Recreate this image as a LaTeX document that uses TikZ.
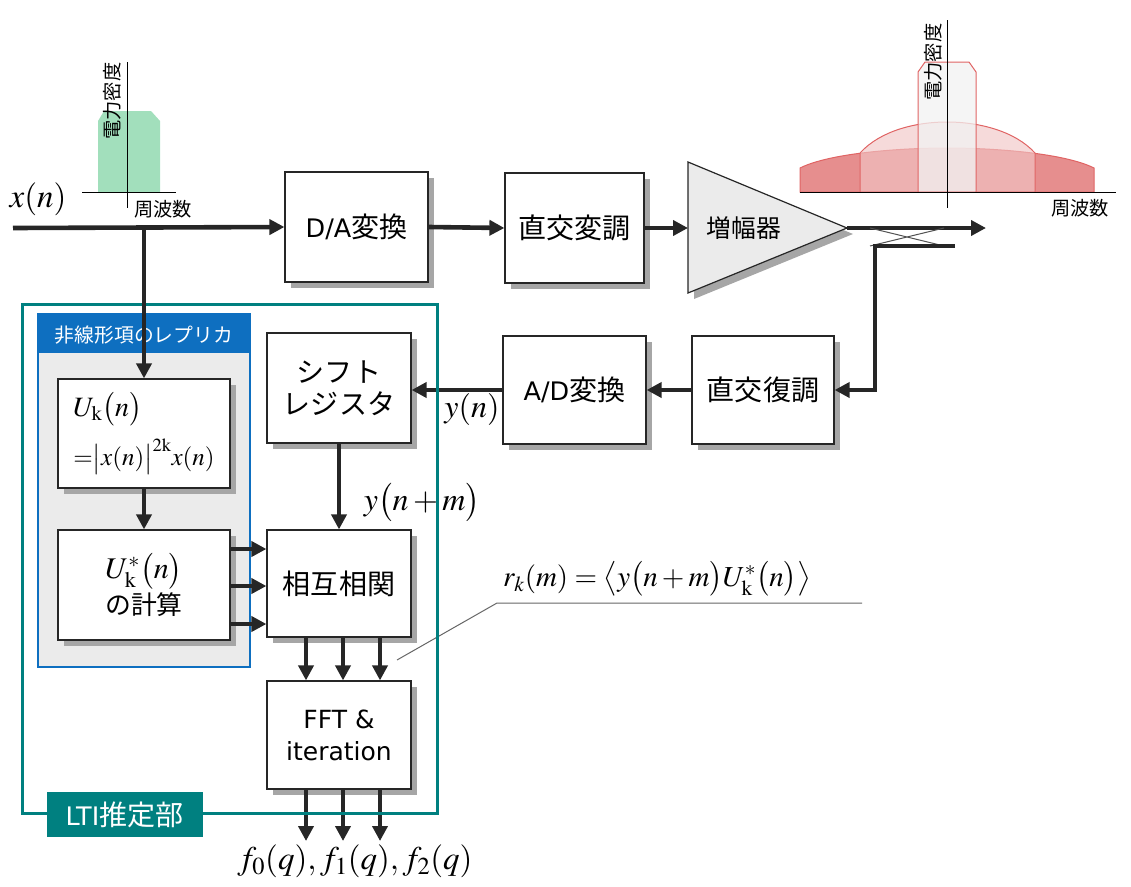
\documentclass[tikz,border=0pt]{standalone}
\usepackage{mathptmx}
\usepackage{fontspec}
\setmainfont{DejaVu Sans}
\newfontfamily\jp[Scale=1.1]{Noto Sans CJK JP}
\usetikzlibrary{arrows.meta,shadows,calc}
\definecolor{tealc}{HTML}{008080}
\definecolor{blueh}{HTML}{0E6FC0}
\definecolor{greyb}{HTML}{EBEBEB}
\definecolor{greensp}{HTML}{A2DFBC}
\definecolor{redo}{HTML}{E68E8E}
\definecolor{redd}{HTML}{E06464}
\definecolor{redm}{HTML}{F1C5C5}
\definecolor{linec}{HTML}{262626}
\tikzset{
  shad/.style={drop shadow={shadow xshift=6pt,shadow yshift=-6pt,fill=black!35,opacity=1}},
  blk/.style={shad,draw=linec,line width=1.2pt,fill=white,inner sep=0pt,align=center,
    font=\fontsize{25.5}{32}\selectfont},
  arr/.style={draw=linec,line width=4.6pt,-{Triangle[length=15pt,width=15pt]}},
  thk/.style={draw=linec,line width=4.6pt},
  axl/.style={draw=black,line width=1pt},
  jsmall/.style={font=\jp\fontsize{17.5}{20}\selectfont},
}
\begin{document}
\begin{tikzpicture}[x=1pt,y=-1pt]
\useasboundingbox (0,0) rectangle (1131,886);

% ---- left spectrum
\path[fill=greensp] (98,192) -- (98,121) -- (104,111) -- (151,111) -- (160,121) -- (160,192) -- cycle;
\draw[axl] (82,192) -- (176,192);
\draw[axl] (127,62) -- (127,208);
\node[jsmall,rotate=90] (pl) at (112,101) {電力密度};
\node[jsmall] (fl) at (163,209) {周波数};
\node[font=\fontsize{33}{36}\selectfont] (xn) at (38,199) {$x(n)$};

% ---- right spectrum
\path[fill=redo,draw=redd,line width=1pt] (800,192) -- (800,168) .. controls (830,153) and (900,148) .. (947,148) .. controls (994,148) and (1064,153) .. (1094,168) -- (1094,192) -- cycle;
\path[fill=redm,fill opacity=0.64,draw=redd,line width=1pt] (860,192) -- (860,153) .. controls (880,131) and (915,122) .. (947,122) .. controls (979,122) and (1015,131) .. (1035,153) -- (1035,192) -- cycle;
\path[fill=black!5,fill opacity=0.75,draw=redd,line width=1pt] (918,192) -- (918,72) -- (925,62) -- (969,62) -- (976,72) -- (976,192) -- cycle;
\draw[axl] (800,192) -- (1116,192);
\draw[axl] (947,20) -- (947,208);
\node[jsmall,rotate=90] (pr) at (933,62) {電力密度};
\node[jsmall] (fr) at (1080,208) {周波数};

% ---- top chain
\node[blk,minimum width=143pt,minimum height=110pt] (da) at (356.5,227) {D/A{\jp 変換}};
\node[blk,minimum width=139pt,minimum height=110pt] (qm) at (574.5,228) {\jp 直交変調};
\draw[shad,draw=linec,line width=1.2pt,fill=greyb] (688,162) -- (847,228) -- (688,293) -- cycle;
\coordinate (ampin) at (688,228);
\coordinate (ampout) at (847,228);
\node[font=\jp\fontsize{22.5}{30}\selectfont] (ampt) at (744,228) {増幅器};
\coordinate (xin) at (13,228);
\coordinate (br) at (144,228);
\draw[arr] (xin) -- (da.west);
\draw[arr] (da.east) -- (qm.west);
\draw[arr] (qm.east) -- (ampin);
\coordinate (outend) at (986,228);
\draw[arr] (ampout) -- (outend);
\draw[draw=linec!80,line width=1pt] (870,228) -- (944,246) (870,246) -- (944,228);

% ---- feedback chain
\node[blk,minimum width=142pt,minimum height=108pt] (dem) at (763,390) {\jp 直交復調};
\node[blk,minimum width=143pt,minimum height=108pt] (ad) at (574.5,390) {A/D{\jp 変換}};
\node[blk,minimum width=144pt,minimum height=110pt] (sr) at (339,388) {\jp シフト\\\jp レジスタ};
\coordinate (cpl) at (955,246);
\coordinate (cpc) at (875,246);
\draw[arr] (cpl) -- (cpc) -- (cpc |- dem.east) -- (dem.east);
\draw[arr] (dem.west) -- (ad.east);
\draw[arr] (ad.west) -- (sr.east |- ad.west);
\node[font=\fontsize{32}{36}\selectfont] (yn) at (472,409) {$y(n)$};

% ---- replica block
\draw[draw=blueh,line width=1.5pt,fill=greyb] (38,314) rectangle (250,667);
\path[fill=blueh] (38,314) rectangle (250,353);
\node[text=white,font=\jp\fontsize{18}{22}\selectfont] (rt) at (144,335) {非線形項のレプリカ};
\node[blk,minimum width=172pt,minimum height=109pt,align=left] (uk) at (144,433.5)
  {{\fontsize{28}{30}\selectfont $U_{\mathrm{k}}\bigl(n\bigr)$}\\[12pt]
   {\fontsize{25}{30}\selectfont ${=}\bigl|x(n)\bigr|^{2\mathrm{k}}x(n)$}};
\node[blk,minimum width=172pt,minimum height=110pt] (us) at (144,585)
  {{\fontsize{30}{32}\selectfont $U^{*}_{\mathrm{k}}\bigl(n\bigr)$}\\[3pt]
   {\jp\fontsize{23.5}{30}\selectfont の計算}};
\draw[arr] (uk.south) -- (us.north);

% ---- correlation
\node[blk,minimum width=144pt,minimum height=107pt] (cc) at (339,583.5) {\jp 相互相関};
\node[blk,minimum width=144pt,minimum height=108pt,font=\fontsize{25}{32}\selectfont] (fft) at (339,735) {FFT \&\\iteration};
\foreach \yy in {549,586,624} \draw[arr] (us.east |- 0,\yy) -- (cc.west |- 0,\yy);
\draw[arr] (sr.south) -- (cc.north);
\node[font=\fontsize{32}{36}\selectfont] (ynm) at (422,502) {$y\bigl(n+m\bigr)$};
\foreach \xx in {306,343,380} \draw[arr] (cc.south -| \xx,0) -- (fft.north -| \xx,0);
\foreach \xx/\nn in {306/a,343/b,380/c} {
  \coordinate (o\nn) at (\xx,841);
  \draw[arr] (fft.south -| \xx,0) -- (o\nn);
}
\node[font=\fontsize{33}{36}\selectfont] (fo) at (355,861) {$f_0(q), f_1(q), f_2(q)$};

% ---- formula
\node[font=\fontsize{29}{32}\selectfont] (rk) at (657,579) {$r_k(m)=\bigl\langle y\bigl(n+m\bigr)U^{*}_{\mathrm{k}}\bigl(n\bigr)\bigr\rangle$};
\coordinate (lda) at (397,660);
\coordinate (ldb) at (497,603);
\coordinate (ldc) at (862,603);
\draw[draw=black!60,line width=1pt] (lda) -- (ldb) -- (ldc);

% ---- LTI frame
\draw[draw=tealc,line width=3pt] (22,304) rectangle (437,813);
\node[fill=tealc,text=white,minimum width=156pt,minimum height=45pt,inner sep=0pt,font=\fontsize{25.5}{30}\selectfont] (lti) at (124.5,814.5) {LTI{\jp 推定部}};
\draw[thk] (br) -- (144,360);
\draw[arr] (144,355) -- (uk.north);
\end{tikzpicture}
\end{document}
